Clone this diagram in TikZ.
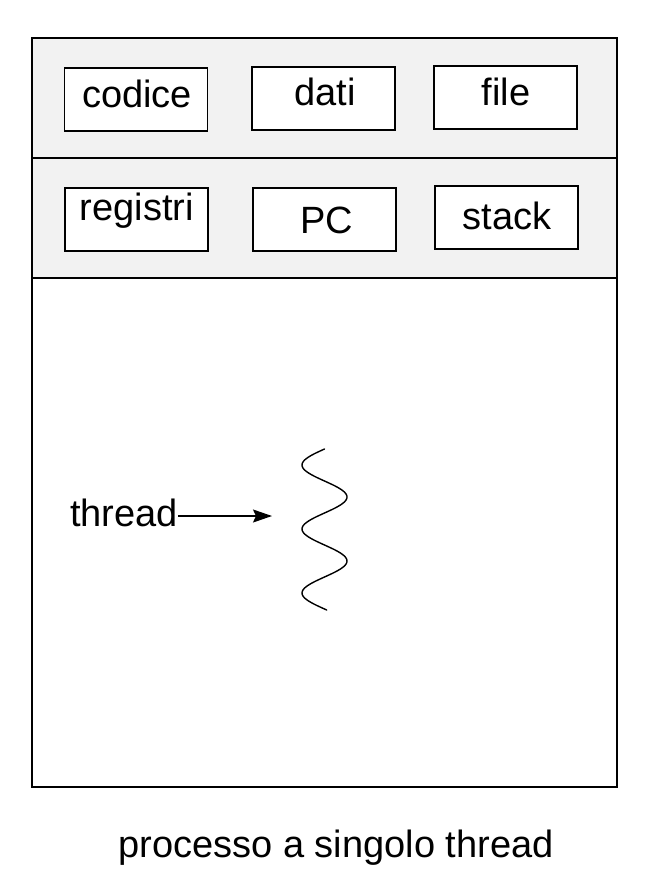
\documentclass[tikz,border=0pt]{standalone}
\usepackage{fontspec}
\setmainfont{Liberation Sans}
\usetikzlibrary{arrows.meta}
\begin{document}
\begin{tikzpicture}[x=1pt,y=-1pt,
  lw/.style={line width=1.8pt},
  boxshape/.style={draw,lw,rectangle,minimum width=143pt,minimum height=63pt,inner sep=0pt},
  lbl/.style={anchor=base,inner sep=0pt,font=\fontsize{38}{44}\selectfont},
  band/.style={fill=black!5}]
\useasboundingbox (0,0) rectangle (668,888);
% shaded bands
\path[band] (32,38) rectangle (617,278);
% outer process frame
\node[draw,lw,rectangle,inner sep=0pt,minimum width=585pt,minimum height=749pt] (proc) at (324.5,412.5) {};
\coordinate (d1l) at (32,158); \coordinate (d1r) at (617,158);
\coordinate (d2l) at (32,278); \coordinate (d2r) at (617,278);
\draw[lw] (d1l) -- (d1r);
\draw[lw] (d2l) -- (d2r);
% boxes row 1
\node[boxshape,fill=white] (bcod) at (136,99.4) {};
\node[boxshape,fill=white] (bdat) at (323.3,98.3) {};
\node[boxshape,fill=white] (bfil) at (505.8,97.2) {};
\node[lbl] (tcod) at (137,108) {codice};
\node[lbl] (tdat) at (325,106) {dati};
\node[lbl] (tfil) at (506,106) {file};
% boxes row 2
\node[boxshape,fill=white] (breg) at (136.5,219.6) {};
\node[boxshape,fill=white] (bpc) at (324.2,219.2) {};
\node[boxshape,fill=white] (bstk) at (506.2,217.7) {};
\node[lbl] (treg) at (137,220) {registri};
\node[lbl] (tpc) at (327,233) {PC};
\node[lbl] (tstk) at (507,229) {stack};
% thread label and arrow
\node[lbl,anchor=base west] (thread) at (70,526) {thread};
\coordinate (tip) at (272,516);
\draw[line width=1.5pt,-{Stealth[length=19pt,width=13pt,inset=3pt]}] (thread.east |- tip) -- (tip);
% wavy thread
\draw[line width=1.4pt,line cap=round] plot[domain=0:161,samples=120,smooth] ({324.5-22.5*sin(5.625*\x)},{449+\x});
% caption
\node[lbl] (caption) at (336,857) {processo a singolo thread};
\end{tikzpicture}
\end{document}
